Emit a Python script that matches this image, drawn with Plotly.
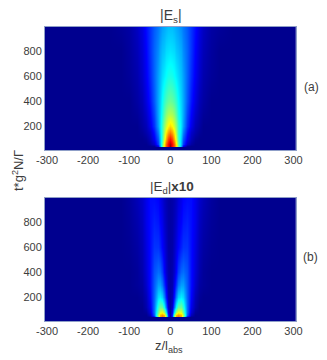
"""
Two |E| maps over z/l_abs and time, stacked, MATLAB jet look.
"""

import numpy as np
import plotly.graph_objects as go

# half profiles, z >= 0; mirrored to negative z below
Z_POS = [0, 5, 10, 15, 20, 25, 30, 40, 50, 60, 70, 80, 100, 120, 150, 305]
T_ES = [8, 35, 36, 44, 60, 100, 150, 200, 300, 400, 600, 800, 992]
T_ED = [8, 39, 42, 56, 80, 120, 200, 300, 400, 600, 800, 992]

ES_ROWS = [
    [0, 0, 0, 0, 0, 0, 0, 0, 0, 0, 0, 0, 0, 0, 0, 0],
    [0, 0, 0, 0, 0, 0, 0, 0, 0, 0, 0, 0, 0, 0, 0, 0],
    [1.0, .84, .74, .6, .42, .22, .06, 0, 0, 0, 0, 0, 0, 0, 0, 0],
    [.95, .86, .78, .64, .46, .28, .1, .01, 0, 0, 0, 0, 0, 0, 0, 0],
    [.93, .86, .77, .63, .46, .3, .17, .06, .02, 0, 0, 0, 0, 0, 0, 0],
    [.85, .8, .7, .57, .43, .31, .2, .1, .04, .01, 0, 0, 0, 0, 0, 0],
    [.74, .7, .63, .53, .42, .33, .24, .13, .06, .03, .01, 0, 0, 0, 0, 0],
    [.65, .62, .57, .5, .42, .34, .27, .16, .09, .04, .02, 0, 0, 0, 0, 0],
    [.54, .53, .5, .45, .39, .33, .28, .18, .11, .06, .03, .01, 0, 0, 0, 0],
    [.47, .46, .44, .41, .37, .32, .28, .2, .13, .08, .04, .02, 0, 0, 0, 0],
    [.39, .385, .37, .35, .33, .3, .27, .21, .15, .1, .06, .03, .01, 0, 0, 0],
    [.34, .335, .33, .31, .3, .28, .25, .21, .16, .11, .07, .04, .015, 0, 0, 0],
    [.3, .3, .29, .28, .27, .25, .23, .2, .16, .12, .08, .05, .02, .01, 0, 0],
]

ED_ROWS = [
    [0, 0, 0, 0, 0, 0, 0, 0, 0, 0, 0, 0, 0, 0, 0, 0],
    [0, 0, 0, 0, 0, 0, 0, 0, 0, 0, 0, 0, 0, 0, 0, 0],
    [.02, .14, .5, .72, .76, .7, .5, .1, 0, 0, 0, 0, 0, 0, 0, 0],
    [.02, .14, .48, .68, .72, .68, .54, .2, .04, 0, 0, 0, 0, 0, 0, 0],
    [.02, .1, .34, .52, .6, .58, .47, .22, .07, .01, 0, 0, 0, 0, 0, 0],
    [.02, .06, .22, .37, .46, .47, .41, .22, .09, .03, 0, 0, 0, 0, 0, 0],
    [.02, .04, .13, .24, .32, .35, .33, .21, .11, .04, .01, 0, 0, 0, 0, 0],
    [.02, .03, .09, .16, .23, .27, .27, .2, .12, .06, .02, .01, 0, 0, 0, 0],
    [.02, .03, .06, .11, .17, .21, .22, .19, .12, .07, .03, .01, 0, 0, 0, 0],
    [.02, .025, .05, .08, .11, .14, .16, .16, .12, .08, .04, .02, .005, 0, 0, 0],
    [.02, .025, .04, .06, .09, .11, .13, .14, .12, .09, .05, .03, .01, 0, 0, 0],
    [.02, .025, .035, .05, .07, .09, .11, .12, .12, .09, .06, .04, .015, 0, 0, 0],
]

X_TICKS = [-300, -200, -100, 0, 100, 200, 300]
X_LABELS = ["-300", "-200", "-100", "0", "100", "200", "300"]
Y_TICKS = [200, 400, 600, 800]

# MATLAB jet, with white just over the top for the clipped peak
JET = [
    [0.0, "#00008f"], [0.11, "#0000ff"], [0.365, "#00ffff"],
    [0.615, "#ffff00"], [0.865, "#ff0000"], [0.97, "#800000"], [1.0, "#ffffff"],
]

FONT = "Liberation Sans, Arial, sans-serif"
TEXT = "#3c3c3c"


def mirror(rows):
    rows = np.array(rows)
    return np.hstack([rows[:, :0:-1], rows])


x_full = [-v for v in Z_POS[:0:-1]] + Z_POS

fig = go.Figure()
fig.add_trace(go.Heatmap(
    x=x_full, y=T_ES, z=mirror(ES_ROWS), xaxis="x", yaxis="y",
    colorscale=JET, zmin=0, zmax=1, zsmooth="best", showscale=False,
))
fig.add_trace(go.Heatmap(
    x=x_full, y=T_ED, z=mirror(ED_ROWS), xaxis="x2", yaxis="y2",
    colorscale=JET, zmin=0, zmax=1, zsmooth="best", showscale=False,
))

x_common = dict(
    range=[-305, 305], tickvals=X_TICKS, ticktext=X_LABELS, ticks="", showgrid=False,
    zeroline=False, showline=True, mirror=True, linecolor="#8f9fc8", linewidth=1,
    domain=[45 / 327, 295.5 / 327], automargin=False,
)
y_common = dict(
    range=[8, 992], tickvals=Y_TICKS, ticks="", showgrid=False, zeroline=False,
    showline=True, mirror=True, linecolor="#8f9fc8", linewidth=1, automargin=False,
)

fig.update_layout(
    width=327, height=360,
    margin=dict(l=0, r=0, t=0, b=0),
    paper_bgcolor="white", plot_bgcolor="#00008f",
    font=dict(family=FONT, size=11, color=TEXT),
    xaxis=dict(x_common, anchor="y"),
    yaxis=dict(y_common, anchor="x", domain=[1 - 150 / 360, 1 - 27 / 360]),
    xaxis2=dict(x_common, anchor="y2"),
    yaxis2=dict(y_common, anchor="x2", domain=[1 - 321 / 360, 1 - 198 / 360]),
)


def label(text, px, py, size=11, **kw):
    fig.add_annotation(
        text=text, x=px / 327, y=1 - py / 360, xref="paper", yref="paper",
        showarrow=False, font=dict(size=size), xanchor="center", yanchor="middle", **kw,
    )


label("|E<sub>s</sub>|", 171, 16, size=14)
label("|E<sub>d</sub>|<b>x10</b>", 172, 187, size=13.5)
label("(a)", 311, 87, size=12)
label("(b)", 310, 257, size=12)
label("z/l<sub>abs</sub>", 169, 346, size=13)
label("t*g<sup>2</sup>N/Γ", 18, 171, size=13, textangle=-90)

fig.write_html(
    "out.html",
    config={"displayModeBar": False},
    post_script="document.body.style.margin='0';",
)
